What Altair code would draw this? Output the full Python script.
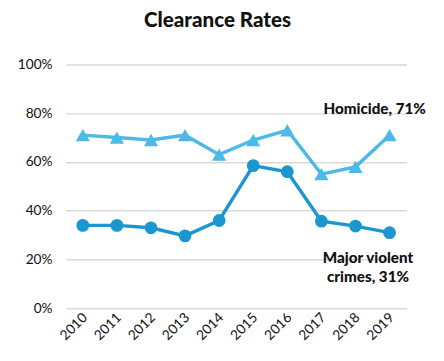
import altair as alt
import pandas as pd

years = ["2010", "2011", "2012", "2013", "2014", "2015", "2016", "2017", "2018", "2019"]
homicide = [0.71, 0.70, 0.69, 0.71, 0.63, 0.69, 0.73, 0.55, 0.58, 0.71]
major_violent = [0.34, 0.34, 0.33, 0.297, 0.36, 0.585, 0.56, 0.357, 0.337, 0.31]
y_ticks = [0, 0.2, 0.4, 0.6, 0.8, 1.0]

c_hom = "#4DB9E9"
c_maj = "#1B96CF"
FONT = "Lato"

df = pd.DataFrame({"year": years, "homicide": homicide, "major": major_violent})

x = alt.X("year:O", title=None,
          scale=alt.Scale(type="point", padding=0.5),
          axis=alt.Axis(labelAngle=-45, labelAlign="right", labelBaseline="middle",
                        labelFontSize=14, labelFont=FONT, labelColor="#111",
                        ticks=False, domain=False, labelPadding=7, labelOffset=2))
yaxis = alt.Axis(values=y_ticks, format=".0%", labelFontSize=14, labelFont=FONT,
                 labelColor="#111", ticks=False, domain=False, gridColor="#d9d9d9",
                 gridWidth=1.5, labelPadding=14)
yscale = alt.Scale(domain=[0, 1])

base = alt.Chart(df)

grid = base.mark_point(opacity=0).encode(
    x=x, y=alt.Y("homicide:Q", scale=yscale, axis=yaxis, title=None))

hom_line = base.mark_line(color=c_hom, strokeWidth=3.5).encode(
    x="year:O", y=alt.Y("homicide:Q", scale=yscale))
hom_pts = base.mark_point(shape="triangle-up", filled=True, opacity=1, color=c_hom, size=210).encode(
    x="year:O", y=alt.Y("homicide:Q", scale=yscale))
maj_line = base.mark_line(color=c_maj, strokeWidth=3.5).encode(
    x="year:O", y=alt.Y("major:Q", scale=yscale))
maj_pts = base.mark_circle(color=c_maj, opacity=1, size=170).encode(
    x="year:O", y=alt.Y("major:Q", scale=yscale))

last = df[df.year == "2019"].copy()
last["hlabel"] = "Homicide, 71%"
last["mlabel"] = "Major violent\ncrimes, 31%"

hom_lab = alt.Chart(last).mark_text(align="right", baseline="middle", dx=37, dy=-27,
                                    font=FONT, fontWeight=900, fontSize=15.5, color="#111").encode(
    x="year:O", y=alt.Y("homicide:Q", scale=yscale), text="hlabel:N")
maj_lab = alt.Chart(last).mark_text(align="center", baseline="top", dx=-22, dy=19,
                                    lineBreak="\n", lineHeight=19,
                                    font=FONT, fontWeight=900, fontSize=15.5, color="#111").encode(
    x="year:O", y=alt.Y("major:Q", scale=yscale), text="mlabel:N")

chart = alt.layer(grid, hom_line, maj_line, hom_pts, maj_pts, hom_lab, maj_lab).properties(
    width=348, height=249,
    title=alt.TitleParams("Clearance Rates", font=FONT, fontSize=21, fontWeight=900,
                          color="#111", anchor="middle", dx=-19, offset=27),
    padding={"left": 59, "top": 54, "right": 30, "bottom": 40},
    autosize=alt.AutoSizeParams(type="none"),
).configure_view(stroke=None).configure_axisX(grid=False)

chart.save("out.html", embed_options={"renderer": "svg", "actions": False})
